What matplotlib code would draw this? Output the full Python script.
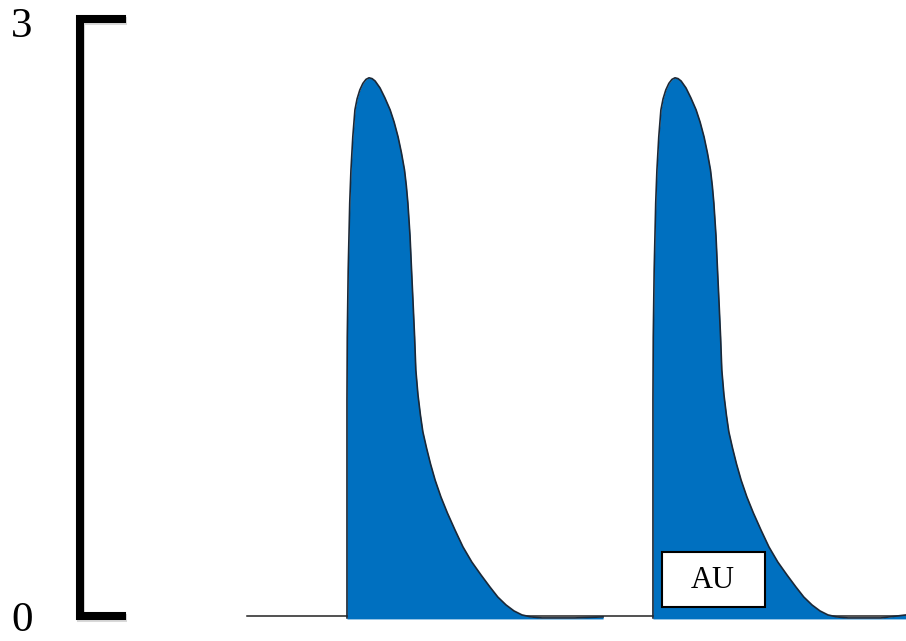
import matplotlib
matplotlib.use("Agg")
from matplotlib import pyplot as plt
from matplotlib.patches import Rectangle
import matplotlib.patheffects as pe

# time axis: 1 unit = one beat (onset to onset), amplitude in AU
peak1_t = [0.000, 0.000, 0.000, 0.001, 0.004, 0.009, 0.013, 0.019, 0.026, 0.033,
           0.042, 0.052, 0.062, 0.072, 0.082, 0.092, 0.108, 0.124, 0.141, 0.154,
           0.167, 0.178, 0.188, 0.194, 0.199, 0.206, 0.211, 0.216, 0.221, 0.225,
           0.232, 0.240, 0.248, 0.260, 0.273, 0.288, 0.307, 0.328, 0.353, 0.379,
           0.408, 0.438, 0.467, 0.493, 0.520, 0.546, 0.572, 0.601, 0.637, 0.680,
           0.745, 0.837]
peak1_y = [-0.010, 0.583, 1.085, 1.402, 1.739, 2.075, 2.241, 2.407, 2.543, 2.598,
           2.643, 2.676, 2.696, 2.704, 2.700, 2.688, 2.653, 2.603, 2.543, 2.482,
           2.407, 2.327, 2.241, 2.161, 2.075, 1.910, 1.739, 1.573, 1.402, 1.236,
           1.111, 1.010, 0.925, 0.844, 0.764, 0.683, 0.598, 0.518, 0.432, 0.347,
           0.271, 0.206, 0.146, 0.095, 0.055, 0.025, 0.005, -0.005, -0.010, -0.010,
           -0.010, -0.005]

peak2_t = [1.000, 1.000, 1.000, 1.001, 1.004, 1.009, 1.013, 1.019, 1.026, 1.033,
           1.042, 1.052, 1.062, 1.072, 1.082, 1.092, 1.108, 1.124, 1.141, 1.154,
           1.167, 1.178, 1.188, 1.194, 1.199, 1.206, 1.211, 1.216, 1.221, 1.225,
           1.232, 1.240, 1.248, 1.260, 1.273, 1.288, 1.307, 1.328, 1.353, 1.379,
           1.408, 1.438, 1.467, 1.493, 1.520, 1.546, 1.572, 1.601, 1.637, 1.680,
           1.745, 1.827]
peak2_y = [-0.010, 0.583, 1.085, 1.402, 1.739, 2.075, 2.241, 2.407, 2.543, 2.598,
           2.643, 2.676, 2.696, 2.704, 2.700, 2.688, 2.653, 2.603, 2.543, 2.482,
           2.407, 2.327, 2.241, 2.161, 2.075, 1.910, 1.739, 1.573, 1.402, 1.236,
           1.111, 1.010, 0.925, 0.844, 0.764, 0.683, 0.598, 0.518, 0.432, 0.347,
           0.271, 0.206, 0.146, 0.095, 0.055, 0.025, 0.005, -0.005, -0.010, -0.010,
           -0.010, 0.005]

baseline_t = [-0.327, 1.827]
scale_ticks = [0, 3]
scale_labels = ["0", "3"]
box_label = "AU"

fill_color = "#0070C0"
edge_color = "#1c2836"
serif = ["Liberation Serif", "DejaVu Serif"]

fig = plt.figure(figsize=(9.06, 6.41), dpi=100)
ax = fig.add_axes([0, 0, 1, 1])
ax.set_xlim(-1.134, 1.827)
ax.set_ylim(-0.126, 3.095)
ax.axis("off")

# flat trace between beats
ax.plot(baseline_t, [0, 0], color="#222222", lw=1.1, zorder=1)

# the two beats
for t, y in [(peak1_t, peak1_y), (peak2_t, peak2_y)]:
    ax.fill_between(t, y, -0.015, color=fill_color, lw=0, zorder=2)
    ax.plot(t, y, color=edge_color, lw=1.2, zorder=3, solid_joinstyle="round")

# amplitude scale bar
bar_x, bar_end = -0.873, -0.735
ax.plot([bar_end, bar_x, bar_x, bar_end], [scale_ticks[1], scale_ticks[1], scale_ticks[0], scale_ticks[0]],
        color="black", lw=5.8, solid_capstyle="projecting", solid_joinstyle="miter", zorder=4,
        path_effects=[pe.SimpleLineShadow(offset=(1, -1.5), alpha=0.15), pe.Normal()])
ax.text(-1.062, scale_ticks[1] - 0.04, scale_labels[1], family=serif, fontsize=31,
        ha="center", va="center")
ax.text(-1.062, scale_ticks[0] - 0.025, scale_labels[0], family=serif, fontsize=31,
        ha="center", va="center")

# unit label
ax.add_patch(Rectangle((1.029, 0.045), 0.337, 0.277, facecolor="white",
                       edgecolor="black", lw=1.5, zorder=5))
ax.text(1.197, 0.18, box_label, family=serif, fontsize=22, ha="center", va="center", zorder=6)

fig.savefig("out.png", dpi=100)
